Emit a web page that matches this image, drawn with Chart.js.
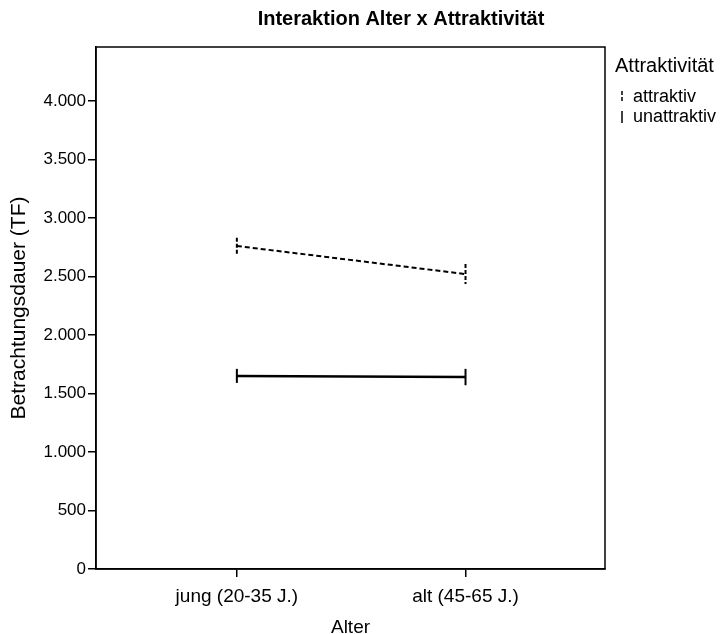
<!DOCTYPE html>
<html>
<head>
<meta charset="utf-8">
<script src="https://cdn.jsdelivr.net/npm/chart.js@4/dist/chart.umd.min.js"></script>
<style>
  html, body { margin: 0; padding: 0; background: #fff; }
  #wrap { width: 720px; height: 634px; }
</style>
</head>
<body>
<div id="wrap"><canvas id="chart" width="720" height="634"></canvas></div>
<script>
'use strict';

const ageGroups = ['jung (20-35 J.)', 'alt (45-65 J.)'];
const xPositions = [0, 1];
const seriesNames = ['attraktiv', 'unattraktiv'];
const attraktivMeans = [2760, 2520];
const attraktivErrors = [70, 85];
const unattraktivMeans = [1650, 1640];
const unattraktivErrors = [60, 70];
const yTicks = [0, 500, 1000, 1500, 2000, 2500, 3000, 3500, 4000];

const FONT = "'Liberation Sans', Arial, Helvetica, sans-serif";

function toPoints(means) {
  return xPositions.map((x, i) => ({ x, y: means[i] }));
}

function formatThousands(value) {
  return String(value).replace(/\B(?=(\d{3})+(?!\d))/g, '.');
}

// error bars + frame + title + legend
const decorations = {
  id: 'decorations',
  afterDatasetsDraw(chart) {
    const { ctx, chartArea, scales } = chart;
    ctx.save();
    chart.data.datasets.forEach(ds => {
      ctx.strokeStyle = '#000';
      ctx.lineWidth = 2;
      ctx.setLineDash(ds.borderDash ? [4, 2] : []);
      ds.data.forEach((pt, i) => {
        const err = ds.errors[i];
        const px = scales.x.getPixelForValue(pt.x);
        const top = scales.y.getPixelForValue(pt.y + err);
        const bottom = scales.y.getPixelForValue(pt.y - err);
        ctx.beginPath();
        ctx.moveTo(px, top);
        ctx.lineTo(px, bottom);
        ctx.stroke();
      });
    });
    ctx.setLineDash([]);

    // frame around plot area
    ctx.lineWidth = 1.5;
    ctx.strokeStyle = '#000';
    ctx.strokeRect(chartArea.left, chartArea.top, chartArea.right - chartArea.left, chartArea.bottom - chartArea.top);

    // title
    ctx.fillStyle = '#000';
    ctx.font = 'bold 20px ' + FONT;
    ctx.textAlign = 'center';
    ctx.textBaseline = 'middle';
    ctx.fillText('Interaktion Alter x Attraktivität', 401, 19);

    // legend
    const lx = chartArea.right + 10;
    ctx.textAlign = 'left';
    ctx.font = '20px ' + FONT;
    ctx.fillText('Attraktivität', lx, 66);
    ctx.font = '18px ' + FONT;
    chart.data.datasets.forEach((ds, i) => {
      const cy = 97 + i * 20;
      ctx.setLineDash(i === 0 ? [4, 2] : []);
      ctx.lineWidth = 1.5;
      ctx.beginPath();
      ctx.moveTo(lx + 7, cy - 6);
      ctx.lineTo(lx + 7, cy + 6);
      ctx.stroke();
      ctx.setLineDash([]);
      ctx.fillText(ds.label, lx + 18, cy);
    });
    ctx.restore();
  }
};

new Chart(document.getElementById('chart').getContext('2d'), {
  type: 'line',
  data: {
    datasets: [
      {
        label: seriesNames[0],
        data: toPoints(attraktivMeans),
        errors: attraktivErrors,
        borderColor: '#000',
        borderWidth: 2,
        borderDash: [5, 3],
        pointRadius: 0,
        fill: false
      },
      {
        label: seriesNames[1],
        data: toPoints(unattraktivMeans),
        errors: unattraktivErrors,
        borderColor: '#000',
        borderWidth: 2.5,
        pointRadius: 0,
        fill: false
      }
    ]
  },
  options: {
    responsive: false,
    animation: false,
    layout: { padding: { top: 47, right: 115, left: 0, bottom: 0 } },
    plugins: {
      legend: { display: false },
      tooltip: { enabled: false },
      title: { display: false }
    },
    scales: {
      x: {
        type: 'linear',
        min: -0.616,
        max: 1.61,
        afterBuildTicks: scale => { scale.ticks = xPositions.map(v => ({ value: v })); },
        afterFit: scale => { scale.height = 65; },
        grid: { drawOnChartArea: false, tickLength: 8, color: '#000', lineWidth: 1.5 },
        border: { color: '#000', width: 1.5 },
        ticks: {
          color: '#000',
          padding: 8,
          font: { family: FONT, size: 19 },
          maxRotation: 0,
          callback: value => ageGroups[xPositions.indexOf(value)] || ''
        },
        title: {
          display: true,
          text: 'Alter',
          color: '#000',
          font: { family: FONT, size: 19 },
          padding: { top: 0, bottom: -5 }
        }
      },
      y: {
        min: 0,
        max: 4460,
        afterBuildTicks: scale => { scale.ticks = yTicks.map(v => ({ value: v })); },
        afterFit: scale => { scale.width = 96; },
        grid: { drawOnChartArea: false, tickLength: 8, color: '#000', lineWidth: 1.5 },
        border: { color: '#000', width: 1.5 },
        ticks: {
          color: '#000',
          padding: 2,
          font: { family: FONT, size: 17 },
          callback: value => formatThousands(value)
        },
        title: {
          display: true,
          text: 'Betrachtungsdauer (TF)',
          color: '#000',
          font: { family: FONT, size: 21 },
          padding: { top: 7, bottom: 0 }
        }
      }
    }
  },
  plugins: [decorations]
});
</script>
</body>
</html>
